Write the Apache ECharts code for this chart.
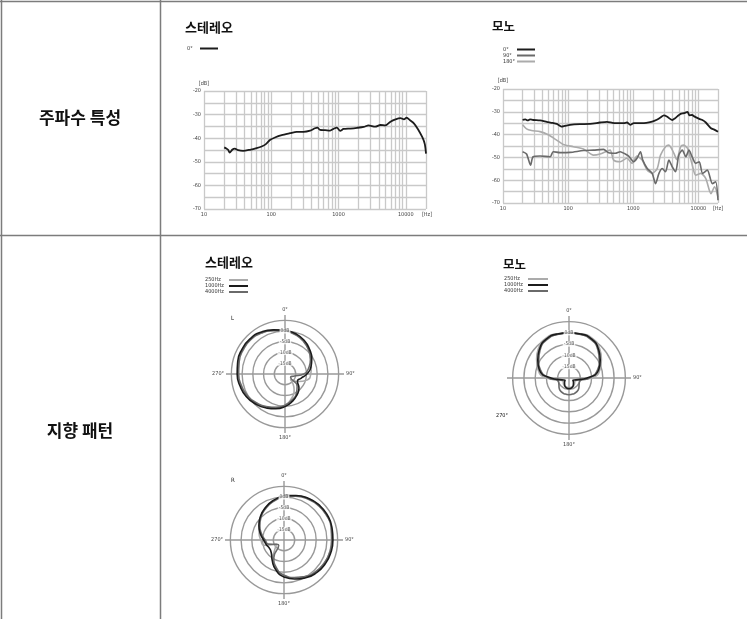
<!DOCTYPE html>
<html><head><meta charset="utf-8">
<script src="https://cdn.jsdelivr.net/npm/echarts/dist/echarts.min.js"></script>
<style>html,body{margin:0;padding:0;background:#fff}#c{width:747px;height:619px}</style>
</head><body><div id="c"></div><script>
// ---------- frequency response data ----------
const decadeTicks = [10, 100, 1000, 10000];
const minorHz = [20,30,40,50,60,70,80,90,200,300,400,500,600,700,800,900,2000,3000,4000,5000,6000,7000,8000,9000];

const stereoHz = [20,21.5,22.8,24.1,26.5,28.7,32.2,38.2,48.1,60.5,71.9,83.2,95.6,113.5,143,190,239,301,379,447,485,532,632,751,862,944,1060,1188,1500,1889,2378,2793,3520,4190,4980,5930,7050,8380,9400,10300,11560,13300,15200,17700,19200,20000];
const stereo0 = [-43.9,-44.4,-44.9,-46.1,-44.8,-44.4,-45.1,-45.4,-44.9,-44.2,-43.5,-42.5,-40.8,-39.7,-38.7,-37.9,-37.3,-37.3,-36.8,-35.8,-35.5,-36.5,-36.6,-36.8,-35.9,-35.5,-36.9,-36.1,-35.9,-35.6,-35.2,-34.6,-35.1,-34.4,-34.6,-33.0,-32.0,-31.5,-32.0,-31.3,-32.4,-33.8,-36.2,-39.7,-42.5,-46.5];

const monoHz0 = [20,22,24,26,29,37,47,58,67,79,89,107,152,218,310,395,480,560,712,800,900,1020,1370,1950,2300,2620,2950,3330,3960,4400,4750,5350,6000,6800,7300,8000,8600,10300,11500,13000,15600,17500,20000];
const mono0 = [-33.5,-33.3,-33.8,-33.3,-33.6,-33.8,-34.4,-34.9,-35.3,-36.5,-36.2,-35.7,-35.4,-35.3,-34.7,-34.4,-34.9,-35.0,-35.0,-34.7,-35.7,-35.0,-35.0,-34.3,-33.5,-32.5,-31.6,-32.2,-33.6,-32.8,-32.0,-30.9,-30.6,-30.0,-31.6,-31.4,-32.0,-33.1,-33.6,-34.7,-37.2,-37.8,-38.8];

const monoHz90 = [20,23,26.5,29,37,53,59,75,107,172,245,350,420,530,630,752,850,1020,1140,1290,1400,1640,1950,2200,2480,2790,3130,3520,3960,4460,5000,5660,6400,7160,8000,9100,10300,11600,13700,16400,18400,20000];
const mono90 = [-47.5,-48.5,-53.4,-49.7,-49.4,-49.7,-47.5,-47.9,-47.8,-47.0,-46.8,-46.5,-48.0,-48.2,-47.5,-48.5,-49.4,-51.9,-50.4,-47.5,-51.2,-54.9,-57.0,-61.5,-57.0,-54.9,-56.3,-51.2,-54.1,-56.3,-49.0,-46.8,-49.7,-46.8,-49.7,-52.6,-51.9,-57.0,-55.6,-61.5,-60.7,-68.8];

const monoHz180 = [20,23,27.4,37,49.5,66.5,84,120,172,245,310,440,500,630,800,960,1140,1370,1640,1950,2330,2620,3130,3520,4210,4650,5350,5900,6800,8000,9100,10900,13000,15600,17700,20000];
const mono180 = [-35.7,-37.5,-38.2,-38.7,-40.1,-42.4,-44.3,-45.3,-46.3,-49.0,-48.5,-46.8,-51.2,-51.9,-50.4,-52.6,-49.4,-51.2,-55.6,-57.0,-54.9,-49.0,-45.3,-44.6,-48.2,-51.0,-45.3,-44.6,-46.0,-53.0,-57.8,-57.0,-59.3,-65.9,-62.9,-67.4];

// ---------- polar pattern data (dB, every 15 deg) ----------
const polarDeg = [0,15,30,45,60,75,90,105,120,135,150,165,180,195,210,225,240,255,270,285,300,315,330,345,360];
const dbRings = [0,-5,-10,-15];
const L250  = [0.2,-0.9,-2.4,-4.3,-6.2,-7.3,-8.0,-9.3,-13.0,-16.5,-11.5,-8.2,-5.6,-3.8,-2.2,-0.8,0.6,1.4,2.0,2.5,2.8,2.8,2.2,1.0,0.2];
const L1000 = [0.5,-0.6,-2.0,-3.8,-5.6,-7.5,-9.8,-12.3,-13.3,-10.8,-8.8,-6.8,-4.8,-3.2,-1.8,-0.4,0.9,1.7,2.3,2.8,3.1,3.1,2.5,1.3,0.5];
const L4000 = [0.2,-1.1,-2.6,-4.4,-6.3,-8.5,-11.2,-16.0,-17.0,-12.0,-9.4,-7.4,-5.5,-3.9,-2.5,-1.1,0.2,1.0,1.6,2.1,2.5,2.6,2.0,0.9,0.2];
const R250  = [0.3,1.2,2.4,2.9,3.0,2.7,2.1,2.0,1.6,0.9,-0.4,-1.8,-3.5,-6.2,-9.5,-14.0,-16.0,-10.5,-9.2,-8.0,-6.6,-4.6,-2.7,-1.0,0.3];
const R1000 = [0.7,1.5,2.5,3.1,3.3,3.1,2.8,2.6,2.2,1.5,0.3,-1.2,-2.8,-5.5,-9.0,-11.6,-12.2,-11.5,-10.5,-8.6,-6.5,-4.5,-2.6,-0.9,0.7];
const R4000 = [0.3,1.1,2.1,2.7,2.9,2.8,2.3,2.1,1.6,0.9,-0.4,-1.9,-3.6,-6.5,-10.5,-16.5,-16.0,-12.5,-11.2,-9.2,-7.0,-4.9,-3.0,-1.3,0.3];
const M250  = [0,0.3,0.4,-1.0,-3.4,-5.8,-10.0,-16.0,-17.0,-16.5,-16.0,-15.8,-15.8,-15.8,-16.0,-16.5,-17.0,-16.0,-10.0,-5.8,-3.4,-1.0,0.4,0.3,0];
const M1000 = [0,0.2,0,-1.6,-4.0,-6.4,-12.0,-16.8,-18.0,-17.2,-16.2,-15.5,-15.3,-15.5,-16.2,-17.2,-18.0,-16.8,-12.0,-6.4,-4.0,-1.6,0,0.2,0];
const M4000 = [0,0,-0.4,-2.0,-4.5,-7.0,-11.0,-15.0,-14.8,-13.8,-13.0,-12.7,-12.6,-12.7,-13.0,-13.8,-14.8,-15.0,-11.0,-7.0,-4.5,-2.0,-0.4,0,0];

const freqNames = ['0°','90°','180°'];
const polarNames = ['250Hz','1000Hz','4000Hz'];

// ---------- styles ----------
const KR = '"Noto Sans CJK KR","Noto Sans",sans-serif';
const COND = '"Liberation Sans Narrow","DejaVu Sans Condensed","Liberation Sans",sans-serif';
const C_BLACK = '#1c1c1c', C_DARK = '#6a6a6a', C_LIGHT = '#ababab';
const GRID_C = '#c9c9c9', RING_C = '#999999', TABLE_C = '#7c7c7c';

const pairs = (xs, ys) => xs.map((x, i) => [x, ys[i]]);
const polarPairs = vals => polarDeg.map((a, i) => [vals[i], a]);

function xAxisFor(gi, gap) {
  return {
    type: 'log', logBase: 10, min: 10, max: 20000, gridIndex: gi,
    axisLine: {show: false}, axisTick: {show: false},
    splitLine: {show: true, lineStyle: {color: GRID_C, width: 1.3}},
    axisLabel: {fontSize: 5.5, color: '#444', fontFamily: COND, margin: 3,
      formatter: v => { const r = Math.round(v); return decadeTicks.indexOf(r) >= 0 ? String(r) : ''; }},
    name: '[Hz]', nameLocation: 'end', nameGap: gap, nameMoveOverlap: false,
    nameTextStyle: {fontSize: 5.5, color: '#444', fontFamily: COND, align: 'center', verticalAlign: 'top', padding: [3, 0, 0, 0]}
  };
}
function yAxisFor(gi, gap) {
  return {
    type: 'value', min: -70, max: -20, interval: 5, gridIndex: gi,
    axisLine: {show: false}, axisTick: {show: false},
    splitLine: {show: true, lineStyle: {color: GRID_C, width: 1.3}},
    axisLabel: {fontSize: 5.5, color: '#444', fontFamily: COND, margin: 3,
      formatter: v => (v % 10 === 0 ? String(v) : '')},
    name: '[dB]', nameLocation: 'end', nameGap: gap, nameMoveOverlap: false,
    nameTextStyle: {fontSize: 5.5, color: '#444', fontFamily: COND, align: 'center'}
  };
}
const minorMark = {
  silent: true, symbol: ['none', 'none'], z: 1, animation: false,
  label: {show: false}, emphasis: {disabled: true},
  lineStyle: {color: GRID_C, type: 'solid', width: 1.3},
  data: minorHz.map(v => ({xAxis: v}))
};
function freqLine(name, gi, xs, ys, color, width, withMark) {
  const s = {
    name, type: 'line', xAxisIndex: gi, yAxisIndex: gi, data: pairs(xs, ys),
    symbol: 'none', smooth: 0.25, color, lineStyle: {color, width}, z: 3, silent: true
  };
  if (withMark) s.markLine = minorMark;
  return s;
}
function angleAxisFor(pi, hide270) {
  return {
    polarIndex: pi, type: 'value', min: 0, max: 360, interval: 90, startAngle: 90, clockwise: true,
    axisLine: {show: false}, axisTick: {show: false},
    splitLine: {show: true, lineStyle: {color: RING_C, width: 1.4}},
    axisLabel: {fontSize: 5.5, color: '#444', fontFamily: COND, margin: 2,
      formatter: v => (v === 360 || (hide270 && v === 270)) ? '' : v + '°'}
  };
}
function radiusAxisFor(pi) {
  return {
    polarIndex: pi, type: 'value', min: -20, max: 7.5, interval: 5,
    axisLine: {show: false}, axisTick: {show: false}, axisLabel: {show: false},
    splitLine: {show: true, lineStyle: {width: 1.4,
      color: [RING_C, RING_C, RING_C, RING_C, RING_C, RING_C, 'rgba(0,0,0,0)']}}
  };
}
function polarLine(name, pi, vals, color) {
  return {name, type: 'line', coordinateSystem: 'polar', polarIndex: pi, data: polarPairs(vals),
    symbol: 'none', smooth: 0.55, color, lineStyle: {color, width: 1.6}, z: 3, silent: true};
}
function ringLabels(pi) {
  return {type: 'scatter', coordinateSystem: 'polar', polarIndex: pi, silent: true, z: 6,
    data: dbRings.map(v => [v, 0]), symbolSize: 1, itemStyle: {color: 'rgba(0,0,0,0)'},
    label: {show: true, position: 'inside', formatter: p => p.value[0] + 'dB',
      fontSize: 5, color: '#333', fontFamily: COND, backgroundColor: '#fff', padding: [0, 1]}};
}
function legendFor(left, top, names, boxW, iconW, lh) {
  return {
    left, top, orient: 'vertical', align: 'right', icon: 'rect', itemWidth: iconW, itemHeight: 2,
    itemGap: 0, padding: 0, selectedMode: false, data: names,
    formatter: n => '{a|' + n + '}',
    textStyle: {rich: {a: {width: boxW, align: 'left', fontSize: 5.5, lineHeight: lh, color: '#333', fontFamily: COND}}}
  };
}
const txt = (x, y, text, font, align) => ({type: 'text', x, y, silent: true,
  style: {text, font, fill: '#111', align: align || 'left', verticalAlign: 'middle', textAlign: align || 'left', textVerticalAlign: 'middle'}});
const ln = (x1, y1, x2, y2) => ({type: 'line', silent: true, shape: {x1, y1, x2, y2}, style: {stroke: TABLE_C, lineWidth: 1.5}});

const chart = echarts.init(document.getElementById('c'), null, {renderer: 'canvas'});
chart.setOption({
  animation: false,
  backgroundColor: '#fff',
  grid: [
    {left: 204, top: 91, width: 222, height: 118, containLabel: false, outerBoundsMode: 'none'},
    {left: 503, top: 89, width: 215, height: 114, containLabel: false, outerBoundsMode: 'none'}
  ],
  xAxis: [xAxisFor(0, 1), xAxisFor(1, 0)],
  yAxis: [yAxisFor(0, 4), yAxisFor(1, 5)],
  polar: [
    {center: [285, 374], radius: 59},
    {center: [284, 540], radius: 59},
    {center: [569, 378], radius: 62}
  ],
  angleAxis: [angleAxisFor(0, false), angleAxisFor(1, false), angleAxisFor(2, true)],
  radiusAxis: [radiusAxisFor(0), radiusAxisFor(1), radiusAxisFor(2)],
  legend: [
    legendFor(187, 45.5, ['0°'], 8, 18, 7),
    legendFor(503, 46.5, freqNames, 9, 18, 7.5),
    legendFor(205, 277, polarNames, 19, 19, 10),
    legendFor(504, 276, polarNames, 19, 20, 10.5)
  ],
  series: [
    freqLine('0°', 0, stereoHz, stereo0, C_BLACK, 1.8, true),
    freqLine('180°', 1, monoHz180, mono180, C_LIGHT, 1.6, true),
    freqLine('90°', 1, monoHz90, mono90, C_DARK, 1.6, false),
    freqLine('0°', 1, monoHz0, mono0, C_BLACK, 1.8, false),
    polarLine('250Hz', 0, L250, C_LIGHT), polarLine('4000Hz', 0, L4000, C_DARK), polarLine('1000Hz', 0, L1000, C_BLACK),
    polarLine('250Hz', 1, R250, C_LIGHT), polarLine('4000Hz', 1, R4000, C_DARK), polarLine('1000Hz', 1, R1000, C_BLACK),
    polarLine('250Hz', 2, M250, C_LIGHT), polarLine('4000Hz', 2, M4000, C_DARK), polarLine('1000Hz', 2, M1000, C_BLACK),
    ringLabels(0), ringLabels(1), ringLabels(2)
  ],
  graphic: [
    ln(0, 1.5, 747, 1.5), ln(1.5, 0, 1.5, 619), ln(160.5, 0, 160.5, 619), ln(0, 235.5, 747, 235.5),
    txt(80, 118, '주파수 특성', 'bold 17px ' + KR, 'center'),
    txt(80, 431, '지향 패턴', 'bold 17px ' + KR, 'center'),
    txt(185, 27, '스테레오', 'bold 13px ' + KR),
    txt(492, 26, '모노', 'bold 12.5px ' + KR),
    txt(205, 262, '스테레오', 'bold 13px ' + KR),
    txt(503, 264, '모노', 'bold 12.5px ' + KR),
    txt(231, 318, 'L', '6px ' + COND),
    txt(231, 480, 'R', '6px ' + COND),
    txt(502, 416, '270°', '5.5px ' + COND, 'center')
  ]
});
</script></body></html>
